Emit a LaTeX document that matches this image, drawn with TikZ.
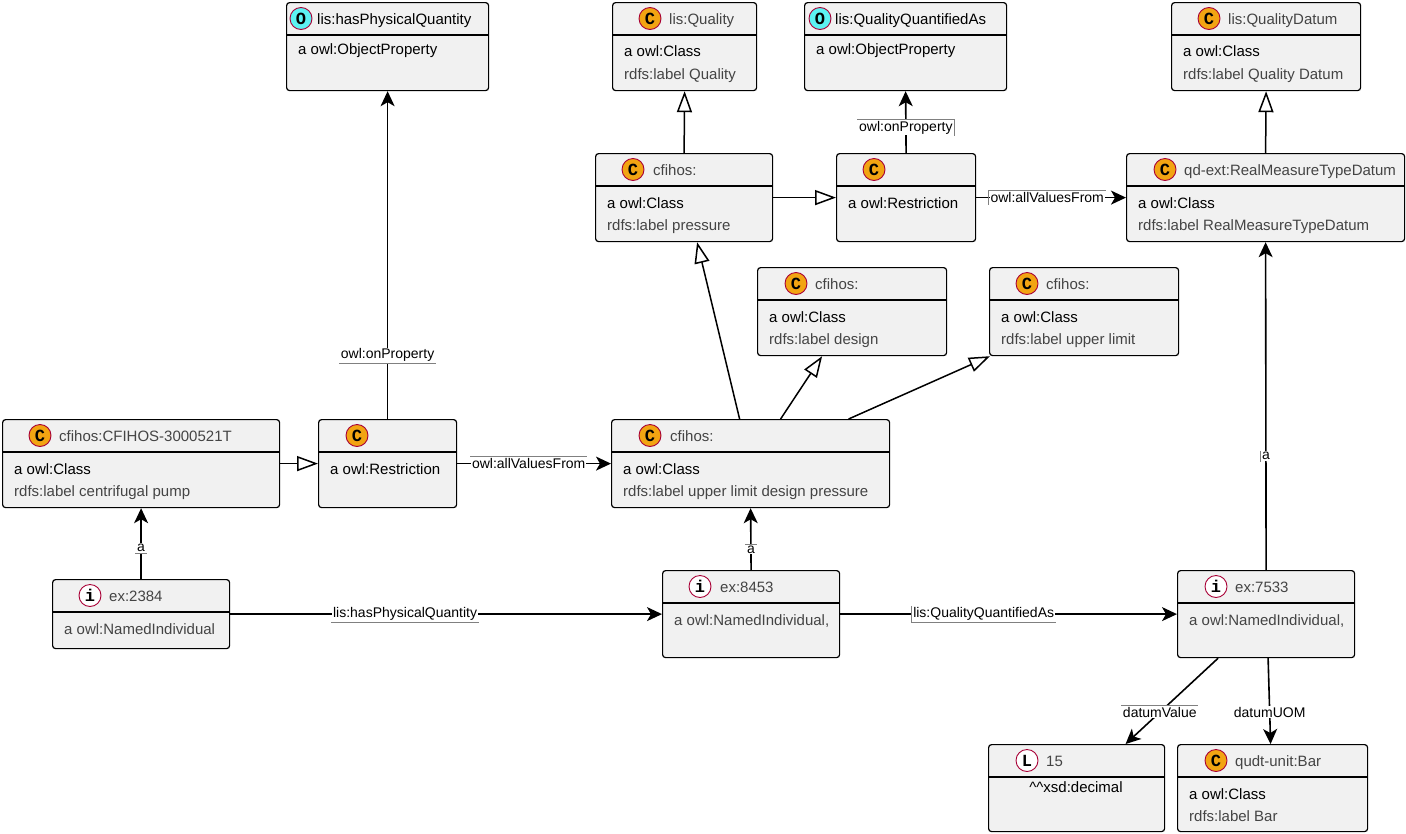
\documentclass[tikz,border=0pt]{standalone}
\usepackage{fontspec}
\setmainfont{Liberation Sans}
\newfontfamily\iconfont{Liberation Mono}
\usetikzlibrary{arrows.meta, positioning}
\definecolor{boxfill}{HTML}{F1F1F1}
\definecolor{iconline}{HTML}{A80036}
\definecolor{classorange}{HTML}{F2A412}
\definecolor{propcyan}{HTML}{5CF2F2}
\definecolor{softtext}{HTML}{444444}
\tikzstyle{umlbox} = [rectangle, rounded corners=3pt, draw=black, line width=1.2pt, fill=boxfill, anchor=north west, inner sep=0pt]
\tikzstyle{divider} = [line width=1.2pt]
\tikzstyle{heading} = [anchor=base west, inner sep=0pt, font=\fontsize{15}{18}\selectfont, text=softtext]
\tikzstyle{entry} = [anchor=base west, inner sep=0pt, font=\fontsize{15}{18}\selectfont]
\tikzstyle{note} = [entry, text=softtext]
\tikzstyle{icon} = [circle, draw=iconline, line width=0.9pt, minimum size=22pt, inner sep=0pt, font=\iconfont\bfseries\fontsize{17}{17}\selectfont]
\tikzstyle{cls} = [icon, fill=classorange]
\tikzstyle{prop} = [icon, fill=propcyan]
\tikzstyle{indiv} = [icon, fill=white]
\tikzstyle{link} = [line width=1.6pt, -{Stealth[length=15pt, width=14pt, inset=4pt]}]
\tikzstyle{subclass} = [line width=1.5pt, -{Triangle[length=21pt, width=15pt, fill=white]}]
\tikzstyle{lbl} = [fill=white, inner sep=1pt, font=\fontsize{14}{16}\selectfont]
\tikzstyle{lblbar} = [draw=gray, line width=0.8pt]

\begin{document}
\begin{tikzpicture}[x=1pt, y=-1pt]
    \useasboundingbox (0,0) rectangle (1406,833);

    \node (hpq) [umlbox, minimum width=202, minimum height=88] at (286,2) {};
    \node [prop] at (301,18.5) {O};
    \node [heading, text=black] at (317,24) {lis:hasPhysicalQuantity};
    \node [entry] at (298,54) {a owl:ObjectProperty};

    \node (qual) [umlbox, minimum width=144, minimum height=88] at (612,2) {};
    \node [cls] at (650,18.5) {C};
    \node [heading] at (669,24) {lis:Quality};
    \node [entry] at (624,56) {a owl:Class};
    \node [note] at (624,79) {rdfs:label Quality};

    \node (qqa) [umlbox, minimum width=202, minimum height=88] at (804,2) {};
    \node [prop] at (820,18.5) {O};
    \node [heading, text=black] at (835,24) {lis:QualityQuantifiedAs};
    \node [entry] at (816,54) {a owl:ObjectProperty};

    \node (qd) [umlbox, minimum width=189, minimum height=88] at (1171,2) {};
    \node [cls] at (1209,18.5) {C};
    \node [heading] at (1228,24) {lis:QualityDatum};
    \node [entry] at (1183,56) {a owl:Class};
    \node [note] at (1183,79) {rdfs:label Quality Datum};

    \node (pres) [umlbox, minimum width=177, minimum height=88] at (595,153) {};
    \node [cls] at (633,169.5) {C};
    \node [heading] at (653,175) {cfihos:};
    \node [entry] at (607,208) {a owl:Class};
    \node [note] at (607,230) {rdfs:label pressure};

    \node (rst2) [umlbox, minimum width=139, minimum height=88] at (836,153) {};
    \node [cls] at (874,169.5) {C};
    \node [entry] at (848,208) {a owl:Restriction};

    \node (rmt) [umlbox, minimum width=278, minimum height=88] at (1126,153) {};
    \node [cls] at (1165,169.5) {C};
    \node [heading] at (1184,175) {qd-ext:RealMeasureTypeDatum};
    \node [entry] at (1138,208) {a owl:Class};
    \node [note] at (1138,230) {rdfs:label RealMeasureTypeDatum};

    \node (design) [umlbox, minimum width=189, minimum height=88] at (757,267) {};
    \node [cls] at (796,283.5) {C};
    \node [heading] at (815,289) {cfihos:};
    \node [entry] at (769,322) {a owl:Class};
    \node [note] at (769,344) {rdfs:label design};

    \node (ul) [umlbox, minimum width=189, minimum height=88] at (989,267) {};
    \node [cls] at (1027,283.5) {C};
    \node [heading] at (1046,289) {cfihos:};
    \node [entry] at (1001,322) {a owl:Class};
    \node [note] at (1001,344) {rdfs:label upper limit};

    \node (cf) [umlbox, minimum width=277, minimum height=88] at (2,419) {};
    \node [cls] at (40,435.5) {C};
    \node [heading] at (59,441) {cfihos:CFIHOS-3000521T};
    \node [entry] at (14,474) {a owl:Class};
    \node [note] at (14,496) {rdfs:label centrifugal pump};

    \node (rst1) [umlbox, minimum width=138, minimum height=88] at (318,419) {};
    \node [cls] at (357,435.5) {C};
    \node [entry] at (330,474) {a owl:Restriction};

    \node (ucdp) [umlbox, minimum width=278, minimum height=88] at (611,419) {};
    \node [cls] at (650,435.5) {C};
    \node [heading] at (670,441) {cfihos:};
    \node [entry] at (623,474) {a owl:Class};
    \node [note] at (623,496) {rdfs:label upper limit design pressure};

    \node (x2384) [umlbox, minimum width=177, minimum height=69] at (52,579) {};
    \node [indiv] at (90,595.5) {i};
    \node [heading] at (109,601) {ex:2384};
    \node [note] at (64,634) {a owl:NamedIndividual};

    \node (x8453) [umlbox, minimum width=177, minimum height=87] at (662,570) {};
    \node [indiv] at (700,586.5) {i};
    \node [heading] at (720,592) {ex:8453};
    \node [note] at (674,625) {a owl:NamedIndividual,};

    \node (x7533) [umlbox, minimum width=177, minimum height=87] at (1177,570) {};
    \node [indiv] at (1216,586.5) {i};
    \node [heading] at (1235,592) {ex:7533};
    \node [note] at (1189,625) {a owl:NamedIndividual,};

    \node (lit) [umlbox, minimum width=176, minimum height=87] at (988,744) {};
    \node [indiv] at (1027,760.5) {L};
    \node [heading] at (1046,766) {15};
    \node [entry, anchor=base] at (1076,792) {\textasciicircum\textasciicircum xsd:decimal};

    \node (bar) [umlbox, minimum width=190, minimum height=87] at (1177,744) {};
    \node [cls] at (1216,760.5) {C};
    \node [heading] at (1235,766) {qudt-unit:Bar};
    \node [entry] at (1189,799) {a owl:Class};
    \node [note] at (1189,821) {rdfs:label Bar};

    \foreach \b in {hpq, qual, qqa, qd, pres, rst2, rmt, design, ul, cf, rst1, ucdp, x2384, x8453, x7533, lit, bar}
        \draw [divider] ([yshift=-33pt]\b.north west) -- ([yshift=-33pt]\b.north east);

    \draw [subclass] (pres.north) -- (qual.south);
    \draw [subclass] (pres.east) -- (rst2.west);
    \draw [subclass] (rmt.north) -- (qd.south);
    \draw [subclass] (cf.east) -- (rst1.west);
    \draw [subclass] ([xshift=-11pt]ucdp.north) -- ([xshift=13pt]pres.south);
    \draw [subclass] ([xshift=30pt]ucdp.north) -- ([xshift=-30pt]design.south);
    \draw [subclass] ([xshift=98pt]ucdp.north) -- ([xshift=1pt]ul.south west);

    \draw [link] (rst1.north) -- node [lbl, pos=0.195] (op1) {owl:onProperty} (hpq.south);
    \draw [link] (rst1.east) -- node [lbl, pos=0.465] (avf1) {owl:allValuesFrom} (ucdp.west);
    \draw [link] (rst2.north) -- node [lbl, pos=0.41] (op2) {owl:onProperty} (qqa.south);
    \draw [link] (rst2.east) -- node [lbl, pos=0.474] (avf2) {owl:allValuesFrom} (rmt.west);
    \draw [link] (x2384.north) -- node [lbl, pos=0.44] (a1) {a} (cf.south);
    \draw [link] (x2384.east) -- node [lbl, pos=0.405] (hpq1) {lis:hasPhysicalQuantity} (x8453.west);
    \draw [link] (x8453.north) -- node [lbl, pos=0.33] (a2) {a} (ucdp.south);
    \draw [link] (x8453.east) -- node [lbl, pos=0.426] (qqa1) {lis:QualityQuantifiedAs} (x7533.west);
    \draw [link] (x7533.north) -- node [lbl, pos=0.347] (a3) {a} (rmt.south);
    \draw [link] ([xshift=-48pt]x7533.south) -- node [lbl, pos=0.63] (dv) {datumValue} ([xshift=49pt]lit.north);
    \draw [link] ([xshift=2pt]x7533.south) -- node [lbl, pos=0.63] (du) {datumUOM} ([xshift=-2pt]bar.north);

    \draw [lblbar] (op1.south west) -- (op1.south east);
    \draw [lblbar] (avf1.north west) -- (avf1.north east);
    \draw [lblbar] (op2.north west) -- (op2.north east) -- (op2.south east);
    \draw [lblbar] (avf2.south west) -- (avf2.north west) -- (avf2.north east);
    \draw [lblbar] (a1.south west) -- (a1.south east);
    \draw [lblbar] (hpq1.south west) -- (hpq1.south east);
    \draw [lblbar] (a2.north west) -- (a2.north east);
    \draw [lblbar] (qqa1.north west) -- (qqa1.south west) -- (qqa1.south east);
    \draw [lblbar] (a3.north west) -- (a3.south west);
    \draw [lblbar] (dv.north west) -- (dv.north east);
\end{tikzpicture}
\end{document}
